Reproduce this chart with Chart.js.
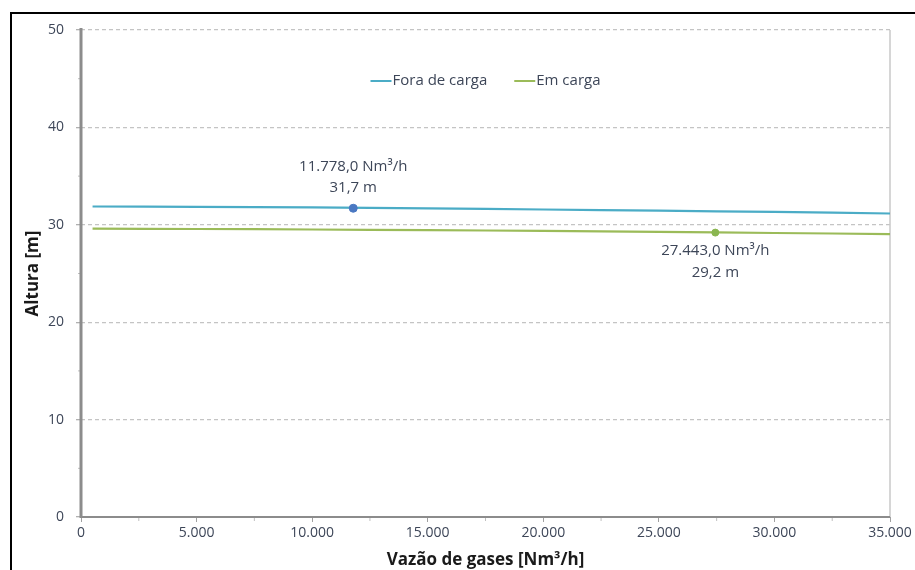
<!DOCTYPE html>
<html>
<head>
<meta charset="utf-8">
<script src="https://cdn.jsdelivr.net/npm/chart.js@4/dist/chart.umd.min.js"></script>
<style>
html,body{margin:0;padding:0;background:#fff;}
#wrap{position:relative;width:915px;height:570px;}
#frame{position:absolute;left:10px;top:12px;width:910px;height:600px;border-left:2px solid #000;border-top:2px solid #000;box-sizing:border-box;pointer-events:none;}
canvas{position:absolute;left:0;top:0;}
</style>
</head>
<body>
<div id="wrap"><canvas id="c" width="915" height="570"></canvas><div id="frame"></div></div>
<script>
const flowValues = [500, 5000, 10000, 15000, 20000, 25000, 30000, 35000];
const foraDeCarga = [31.88, 31.85, 31.78, 31.68, 31.57, 31.45, 31.32, 31.16];
const emCarga = [29.6, 29.57, 29.52, 29.45, 29.37, 29.27, 29.16, 29.05];
const opFora = {x: 11778.0, y: 31.7};
const opEm = {x: 27443.0, y: 29.2};
const seriesLabels = ['Fora de carga', 'Em carga'];
const yTitle = 'Altura [m]';
const xTitle = 'Vazão de gases [Nm³/h]';

function fmtThousands(v, dec) {
  const neg = v < 0; v = Math.abs(v);
  let s = dec ? v.toFixed(dec) : Math.round(v).toString();
  let [i, d] = s.split('.');
  i = i.replace(/\B(?=(\d{3})+(?!\d))/g, '.');
  return (neg ? '-' : '') + i + (d ? ',' + d : '');
}

const FONT = "'Open Sans', 'Noto Sans', sans-serif";
const TXT = '#3d4658';
const BLUE = '#4bacc6', GREEN = '#9bbb59';

const extras = {
  id: 'extras',
  beforeDatasetsDraw(chart) {
    const {ctx, chartArea: a, scales: {x, y}} = chart;
    ctx.save();
    ctx.strokeStyle = '#c8c8c8'; ctx.lineWidth = 1.5;
    ctx.beginPath(); ctx.moveTo(a.right, a.top); ctx.lineTo(a.right, a.bottom); ctx.stroke();
    ctx.strokeStyle = '#c0c0c0'; ctx.lineWidth = 1;
    for (let v = 2500; v < 35000; v += 5000) {
      const px = x.getPixelForValue(v);
      ctx.beginPath(); ctx.moveTo(px, a.bottom); ctx.lineTo(px, a.bottom + 4); ctx.stroke();
    }
    for (let v = 5; v < 50; v += 10) {
      const py = y.getPixelForValue(v);
      ctx.beginPath(); ctx.moveTo(a.left - 3, py); ctx.lineTo(a.left, py); ctx.stroke();
    }
    ctx.restore();
  },
  afterDatasetsDraw(chart) {
    const {ctx, chartArea: a, scales: {x, y}} = chart;
    ctx.save();
    ctx.strokeStyle = '#8c8c8c';
    ctx.lineWidth = 2;
    ctx.beginPath(); ctx.moveTo(a.left - 1, a.bottom); ctx.lineTo(a.right, a.bottom); ctx.stroke();
    ctx.lineWidth = 3;
    ctx.beginPath(); ctx.moveTo(a.left, a.top - 2); ctx.lineTo(a.left, a.bottom + 1); ctx.stroke();
    ctx.fillStyle = TXT;
    ctx.font = '15px ' + FONT;
    ctx.textAlign = 'center'; ctx.textBaseline = 'middle';
    let px = x.getPixelForValue(opFora.x), py = y.getPixelForValue(opFora.y);
    ctx.fillText(fmtThousands(opFora.x, 1) + ' Nm³/h', px, py - 42);
    ctx.fillText(fmtThousands(opFora.y, 1) + ' m', px, py - 21);
    px = x.getPixelForValue(opEm.x); py = y.getPixelForValue(opEm.y);
    ctx.fillText(fmtThousands(opEm.x, 1) + ' Nm³/h', px, py + 18);
    ctx.fillText(fmtThousands(opEm.y, 1) + ' m', px, py + 40);
    ctx.textAlign = 'left';
    const colors = [BLUE, GREEN];
    const lineW = 21, gapAfterLine = 1, gapItems = 27;
    const widths = seriesLabels.map(l => lineW + gapAfterLine + ctx.measureText(l).width);
    const total = widths.reduce((s, w) => s + w, 0) + gapItems * (seriesLabels.length - 1);
    let lx = (a.left + a.right) / 2 - total / 2;
    const ly = a.top + 51;
    seriesLabels.forEach((l, i) => {
      ctx.strokeStyle = colors[i]; ctx.lineWidth = 2;
      ctx.beginPath(); ctx.moveTo(lx, ly); ctx.lineTo(lx + lineW, ly); ctx.stroke();
      ctx.fillStyle = TXT;
      ctx.fillText(l, lx + lineW + gapAfterLine, ly);
      lx += widths[i] + gapItems;
    });
    ctx.restore();
  }
};

new Chart(document.getElementById('c'), {
  type: 'line',
  data: {
    datasets: [
      {label: seriesLabels[0], data: flowValues.map((v, i) => ({x: v, y: foraDeCarga[i]})), borderColor: BLUE, borderWidth: 2.2, pointRadius: 0, tension: 0.4, order: 2},
      {label: seriesLabels[1], data: flowValues.map((v, i) => ({x: v, y: emCarga[i]})), borderColor: GREEN, borderWidth: 2.2, pointRadius: 0, tension: 0.4, order: 2},
      {label: 'op1', data: [opFora], showLine: false, pointRadius: 4, pointBackgroundColor: '#4a78c2', pointBorderColor: '#4a78c2', order: 1},
      {label: 'op2', data: [opEm], showLine: false, pointRadius: 3.5, pointBackgroundColor: '#8ab650', pointBorderColor: '#8ab650', order: 1}
    ]
  },
  options: {
    responsive: false,
    animation: false,
    layout: {padding: {left: 23, right: 25, top: 30, bottom: 0}},
    plugins: {legend: {display: false}, tooltip: {enabled: false}},
    scales: {
      x: {
        type: 'linear', min: 0, max: 35000,
        ticks: {stepSize: 5000, color: TXT, font: {family: FONT, size: 14}, padding: 3, maxRotation: 0,
          callback: v => fmtThousands(v)},
        grid: {drawOnChartArea: false, color: '#a0a0a0', tickLength: 5},
        border: {display: false},
        title: {display: true, text: xTitle, color: '#1a1a1a', font: {family: FONT, size: 17, weight: 'bold'}, padding: {top: 0, bottom: 0}},
        afterFit: s => { s.height = 53; }
      },
      y: {
        min: 0, max: 50,
        ticks: {stepSize: 10, color: TXT, font: {family: FONT, size: 14}, padding: 12},
        grid: {color: c => c.tick && c.tick.value === 0 ? 'rgba(0,0,0,0)' : '#c4c4c4', borderDash: [4, 3], lineWidth: 1.3, tickLength: 5, tickColor: '#b0b0b0'},
        border: {display: false, dash: [4, 3]},
        title: {display: true, text: yTitle, color: '#1a1a1a', font: {family: FONT, size: 17, weight: 'bold'}, padding: {top: 0, bottom: 0}},
        afterFit: s => { s.width = 58; }
      }
    }
  },
  plugins: [extras]
});
</script>
</body>
</html>
